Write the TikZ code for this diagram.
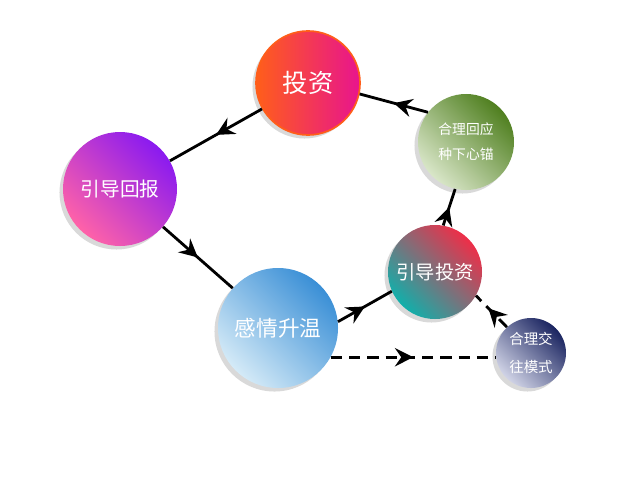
\documentclass[tikz,border=0pt]{standalone}
\usepackage{fontspec}
\setmainfont{Noto Sans CJK SC}
\usetikzlibrary{arrows.meta,decorations.markings,shadows}
\definecolor{touzia}{HTML}{FF5E1A}
\definecolor{touzib}{HTML}{E8148E}
\definecolor{huiyinga}{HTML}{4F7F1F}
\definecolor{huiyingb}{HTML}{D9E6C8}
\definecolor{huibaoa}{HTML}{8A1AF0}
\definecolor{huibaob}{HTML}{FF62A8}
\definecolor{shengwena}{HTML}{3A8FD6}
\definecolor{shengwenb}{HTML}{D4EAF7}
\definecolor{yindaoa}{HTML}{EE2E48}
\definecolor{yindaob}{HTML}{12AFAA}
\definecolor{jiaowanga}{HTML}{1A2460}
\definecolor{jiaowangb}{HTML}{D0D3E6}
\tikzset{
  ball/.style 2 args={circle, inner sep=0pt, text=white, align=center,
    top color=#1, bottom color=#2, shading angle=-45,
    drop shadow={shadow xshift=-2.5pt, shadow yshift=-2.5pt, fill=black!25, opacity=0.6}},
  link/.style={line width=2pt, black},
  midarrow/.style={postaction={decorate}, decoration={markings,
    mark=at position #1 with {\arrow{Stealth[length=13pt,width=13pt,inset=4.5pt]}}}},
  midarrow/.default=0.5,
  dashlink/.style={link, dash pattern=on 8pt off 5pt}
}
\begin{document}
\begin{tikzpicture}[scale=1]
				\useasboundingbox (0,0) rectangle (16,12);
				\node [ball={touzib}{touzia}, minimum size=2.6cm, left color=touzia, right color=touzib,
					draw=touzia, line width=1.2pt, font=\fontsize{18}{20}\selectfont] (touzi) at (7.7,9.925) {投资};
				\node [ball={huiyinga}{huiyingb}, minimum size=2.4cm, font=\fontsize{9.8}{17.8}\selectfont] (huiying) at (11.65,8.45) {合理回应\\种下心锚};
				\node [ball={huibaoa}{huibaob}, minimum size=2.85cm, font=\fontsize{14}{16}\selectfont] (huibao) at (3.0,7.275) {引导回报};
				\node [ball={shengwena}{shengwenb}, minimum size=3.0cm, font=\fontsize{15.4}{17}\selectfont] (shengwen) at (6.95,3.8) {感情升温};
				\node [ball={yindaoa}{yindaob}, minimum size=2.35cm, font=\fontsize{13.7}{15}\selectfont] (yindao) at (10.875,5.2) {引导投资};
				\node [ball={jiaowanga}{jiaowangb}, minimum size=1.75cm, font=\fontsize{10.3}{20}\selectfont] (jiaowang) at (13.275,3.175) {合理交\\往模式};
				
				\draw [link, midarrow] (touzi) -- (huibao);
				\draw [link, midarrow] (huibao) -- (shengwen);
				\draw [link, midarrow] (shengwen.6) -- (yindao.204);
				\draw [link, midarrow] (yindao.80) -- (huiying.257);
				\draw [link, midarrow] (huiying.142) -- (touzi.-12);
				\draw [dashlink, midarrow] (shengwen.-29) -- (jiaowang.west |- shengwen.-29);
				\draw [dashlink, midarrow=0.6] (jiaowang.133) -- (yindao.-30);
			\end{tikzpicture}
\end{document}
